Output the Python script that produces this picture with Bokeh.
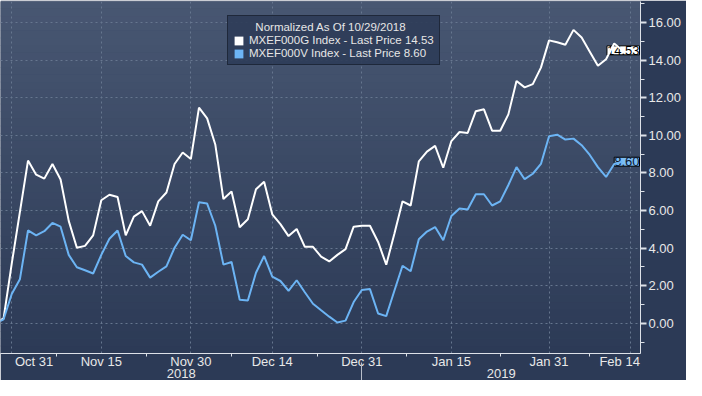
import numpy as np
import pandas as pd
from bokeh.plotting import figure
from bokeh.models import (FixedTicker, LinearAxis, Legend, LegendItem,
                          NumeralTickFormatter, Range1d, BoxAnnotation, Label)
from bokeh.embed import file_html
from bokeh.resources import INLINE

# ---------------- data ----------------
start_date = "2018-10-29"
end_date = "2019-02-13"
growth_name = "MXEF000G Index - Last Price"
value_name = "MXEF000V Index - Last Price"
legend_title = "Normalized As Of 10/29/2018"

growth = [0.00, 0.26, 3.17, 5.92, 8.66, 7.91, 7.70, 8.48, 7.65, 5.45,
          4.02, 4.12, 4.68, 6.55, 6.84, 6.72, 4.68, 5.68, 5.97, 5.19,
          6.49, 6.96, 8.48, 9.09, 8.74, 11.48, 10.91, 9.52, 6.61, 7.01,
          5.11, 5.54, 7.13, 7.53, 5.80, 5.28, 4.64, 5.02, 4.07, 4.07,
          3.55, 3.29, 3.64, 3.95, 5.14, 5.19, 5.19, 4.33, 3.12, 4.76,
          6.49, 6.27, 8.62, 9.14, 9.44, 8.28, 9.70, 10.18, 10.13, 11.29,
          11.39, 10.25, 10.25, 11.12, 12.90, 12.56, 12.73, 13.61, 15.06, 14.96,
          14.83, 15.62, 15.21, 14.46, 13.71, 14.06, 14.89, 14.53]

value_idx = [0.00, 0.21, 1.56, 2.34, 4.94, 4.68, 4.90, 5.34, 5.14, 3.64,
             2.98, 2.82, 2.65, 3.64, 4.50, 4.94, 3.58, 3.24, 3.12, 2.43,
             2.74, 3.03, 4.02, 4.71, 4.42, 6.44, 6.37, 5.19, 3.12, 3.26,
             1.25, 1.21, 2.69, 3.58, 2.48, 2.25, 1.73, 2.29, 1.65, 1.04,
             0.69, 0.35, 0.04, 0.14, 1.13, 1.77, 1.82, 0.52, 0.38, 1.73,
             3.06, 2.77, 4.47, 4.88, 5.12, 4.42, 5.71, 6.11, 6.06, 6.87,
             6.87, 6.27, 6.49, 7.36, 8.31, 7.67, 7.96, 8.48, 9.96, 10.04,
             9.78, 9.83, 9.48, 8.96, 8.31, 7.79, 8.48, 8.60]

month_tick_dates = ["2018-10-31", "2018-11-15", "2018-11-30", "2018-12-14",
                    "2018-12-31", "2019-01-15", "2019-01-31", "2019-02-14"]
month_tick_labels = ["Oct 31", "Nov 15", "Nov 30", "Dec 14",
                     "Dec 31", "Jan 15", "Jan 31", "Feb 14"]
year_labels = ["2018", "2019"]
year_break_date = "2018-12-31"
y_ticks = [0, 2, 4, 6, 8, 10, 12, 14, 16]
y_minor_ticks = [-1, 1, 3, 5, 7, 9, 11, 13, 15, 17]

# ---------------- positions (weekday calendar) ----------------
calendar = pd.bdate_range("2018-10-29", "2019-03-01")


def pos(d):
    return int(calendar.get_loc(pd.Timestamp(d)))


dates = pd.bdate_range(start_date, end_date)
xs = [pos(d) for d in dates]

x_start, x_end = 0.62, 79.23
y_start, y_end = -1.61, 17.13

FONT = "Liberation Sans"
BG_BOTTOM = (0x2c, 0x3a, 0x56)
BG_TOP = (0x48, 0x57, 0x72)
WHITE = "#ffffff"
BLUE = "#6cb4f4"
AXIS_COL = "#dde1e8"
TXT_COL = "#e8e8e8"

p = figure(width=686, height=380, output_backend="svg", toolbar_location=None, tools="",
           x_range=Range1d(x_start, x_end), y_range=Range1d(y_start, y_end),
           y_axis_location="right", min_border=0, min_border_top=1, min_border_right=46,
           min_border_left=0, border_fill_color="#2c3a56",
           background_fill_color="#3a4864", outline_line_color=None)

# gradient background
n_bands = 48
edges = np.linspace(y_start, y_end, n_bands + 1)
for i in range(n_bands):
    t = (i + 0.5) / n_bands
    c = tuple(int(round(b + (tp - b) * t)) for b, tp in zip(BG_BOTTOM, BG_TOP))
    p.add_layout(BoxAnnotation(bottom=edges[i], top=edges[i + 1] + 0.02,
                               fill_color="#%02x%02x%02x" % c, fill_alpha=1.0,
                               line_color=None, level="image"))

# last price tags (drawn beneath the lines so no data is hidden)
for vals, fill, tcol in ((growth, "#ffffff", "#000000"), (value_idx, "#7cbdf5", "#0b1630")):
    p.add_layout(Label(x=x_end, y=vals[-1], x_offset=-1, text=f"{vals[-1]:.2f}",
                       text_baseline="middle", text_align="right",
                       text_font=FONT, text_font_size="13px", text_color=tcol,
                       background_fill_color=fill, background_fill_alpha=1.0,
                       border_line_color="#000000", level="underlay"))

# series
r_g = p.line(xs, growth, line_color=WHITE, line_width=2)
r_v = p.line(xs, value_idx, line_color=BLUE, line_width=2)

# x axis (months)
m_ticks = [pos(d) for d in month_tick_dates]
m_minor = [(a + b) / 2 for a, b in zip(m_ticks[:-1], m_ticks[1:])]
nb = "\u00a0"
overrides = {}
for i, (t, lab) in enumerate(zip(m_ticks, month_tick_labels)):
    if i == 0:
        lab = nb * 4 + lab
    elif i == len(m_ticks) - 1:
        lab = lab + nb * 6
    overrides[t] = lab
xa = p.xaxis[0]
xa.ticker = FixedTicker(ticks=m_ticks, minor_ticks=m_minor)
xa.major_label_overrides = overrides
xa.axis_line_color = AXIS_COL
xa.axis_line_width = 1
xa.major_tick_line_color = None
xa.major_tick_out = 0
xa.major_tick_in = 0
xa.minor_tick_line_color = AXIS_COL
xa.minor_tick_out = 3
xa.minor_tick_in = 0
xa.major_label_standoff = -3
xa.major_label_text_font = FONT
xa.major_label_text_font_size = "13px"
xa.major_label_text_color = TXT_COL

# year axis (labels only)
brk = pos(year_break_date)
year_ticks = [round((x_start + brk) / 2, 2), round((brk + x_end) / 2, 2)]
year_axis = LinearAxis(ticker=FixedTicker(ticks=year_ticks),
                       major_label_overrides={t: l for t, l in zip(year_ticks, year_labels)},
                       axis_line_color=None, major_tick_line_color=None,
                       minor_tick_line_color=None,
                       major_tick_out=0, major_tick_in=0, minor_tick_out=0, minor_tick_in=0,
                       major_label_standoff=-3, major_label_text_font=FONT,
                       major_label_text_font_size="13px", major_label_text_color=TXT_COL)
p.add_layout(year_axis, "below")

# year separator: tick pointing up into the year row
sep_axis = LinearAxis(ticker=FixedTicker(ticks=[brk]),
                      major_label_overrides={brk: ""},
                      axis_line_color=None, major_tick_line_color="#b8bec9",
                      major_tick_line_width=1,
                      major_tick_out=0, major_tick_in=18,
                      minor_tick_line_color=None, minor_tick_out=0, minor_tick_in=0,
                      major_label_standoff=0, major_label_text_font_size="0px")
p.add_layout(sep_axis, "below")

# right y axis
ya = p.yaxis[0]
ya.ticker = FixedTicker(ticks=y_ticks, minor_ticks=y_minor_ticks)
ya.formatter = NumeralTickFormatter(format="0.00")
ya.axis_line_color = AXIS_COL
ya.major_tick_line_color = AXIS_COL
ya.major_tick_line_width = 2
ya.major_tick_out = 6
ya.major_tick_in = 0
ya.minor_tick_line_color = AXIS_COL
ya.minor_tick_out = 4
ya.minor_tick_in = 0
ya.major_label_standoff = 2
ya.major_label_text_font = FONT
ya.major_label_text_font_size = "13px"
ya.major_label_text_color = TXT_COL

# grids
for g in (p.xgrid[0], p.ygrid[0]):
    g.grid_line_color = "#66768f"
    g.grid_line_dash = "2 3"
    g.grid_line_width = 1

# legend with square swatches (zero-area quads at each series' last point)
sw_g = p.quad(left=[xs[-1]], right=[xs[-1]], top=[growth[-1]], bottom=[growth[-1]],
              fill_color=WHITE, line_color=None)
sw_v = p.quad(left=[xs[-1]], right=[xs[-1]], top=[value_idx[-1]], bottom=[value_idx[-1]],
              fill_color=BLUE, line_color=None)
legend = Legend(items=[LegendItem(label=f"{growth_name} {growth[-1]:.2f}", renderers=[sw_g]),
                       LegendItem(label=f"{value_name} {value_idx[-1]:.2f}", renderers=[sw_v])],
                title=nb * 7 + legend_title,
                location=(227, 288), orientation="vertical",
                background_fill_color="#2e3c58", background_fill_alpha=0.9,
                border_line_color="#0e121a", border_line_width=1,
                label_text_font=FONT, label_text_font_size="11.5px",
                label_text_color="#e6e6e6",
                title_text_font=FONT, title_text_font_size="11.5px",
                title_text_font_style="normal", title_text_color="#e6e6e6",
                title_standoff=1, glyph_width=11, glyph_height=11,
                label_height=12, label_standoff=5, spacing=1, padding=5, margin=0)
p.add_layout(legend, "center")

open("out.html", "w").write(file_html(p, INLINE))
